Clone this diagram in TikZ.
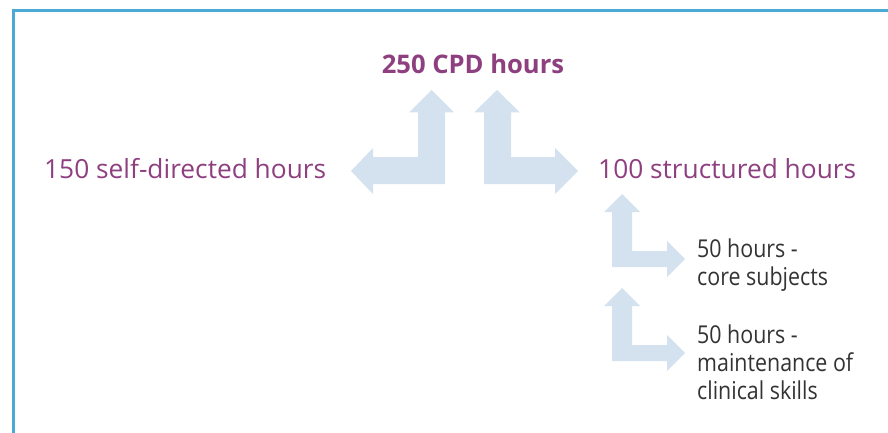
\documentclass[tikz,border=0pt]{standalone}
\usepackage{fontspec}
\setmainfont{Open Sans}
\newfontfamily\narrowf{Open Sans}[FakeStretch=0.87]
\definecolor{framecol}{HTML}{4AAAD4}
\definecolor{arrowcol}{HTML}{D4E2EF}
\definecolor{purp}{HTML}{8E3F7F}
\definecolor{greytxt}{HTML}{333333}
\tikzset{
  bigtxt/.style={inner sep=0pt, text=purp, font=\fontsize{26.3}{30}\selectfont},
  titletxt/.style={inner sep=0pt, text=purp, font=\fontsize{25.6}{30}\selectfont\bfseries},
  smalltxt/.style={inner sep=0pt, text=greytxt, align=left, font=\narrowf\fontsize{24.6}{28}\selectfont},
  blockarrow/.style={fill=arrowcol, draw=none}
}
\begin{document}
\begin{tikzpicture}[x=1pt, y=-1pt]
\useasboundingbox (0,0) rectangle (888,433);
% frame
\draw[framecol, line width=2.2pt] (13.5,433) -- (13.5,10.5) -- (888,10.5);
% texts
\node[titletxt, anchor=base] (total) at (473,74) {250 CPD hours};
\node[bigtxt, anchor=base west] (self) at (44,178) {150 self-directed hours};
\node[bigtxt, anchor=base west] (struct) at (598,178) {100 structured hours};
\node[smalltxt, anchor=base west] (core) at (697,285) {50 hours -\\core subjects};
\node[smalltxt, anchor=base west] (maint) at (697,399.5) {50 hours -\\maintenance of\\clinical skills};
% big arrows
\fill[blockarrow] (431.5,90) -- (454,112.5) -- (445,112.5) -- (445,184) -- (373,184) -- (373,194)
  -- (351,171) -- (373,148) -- (373,157) -- (418,157) -- (418,112.5) -- (409,112.5) -- cycle;
\fill[blockarrow] (497,90) -- (520,112.5) -- (511,112.5) -- (511,157) -- (555,157) -- (555,148)
  -- (578,171) -- (555,194) -- (555,184) -- (484,184) -- (484,112.5) -- (474,112.5) -- cycle;
% small arrows
\foreach \dy in {0,94}{
  \fill[blockarrow] (622,194+\dy) -- (640,212+\dy) -- (632,212+\dy) -- (632,251+\dy) -- (667,251+\dy)
    -- (667,241+\dy) -- (685,259+\dy) -- (667,277+\dy) -- (667,267+\dy) -- (612,267+\dy)
    -- (612,212+\dy) -- (604,212+\dy) -- cycle;
}
\end{tikzpicture}
\end{document}
